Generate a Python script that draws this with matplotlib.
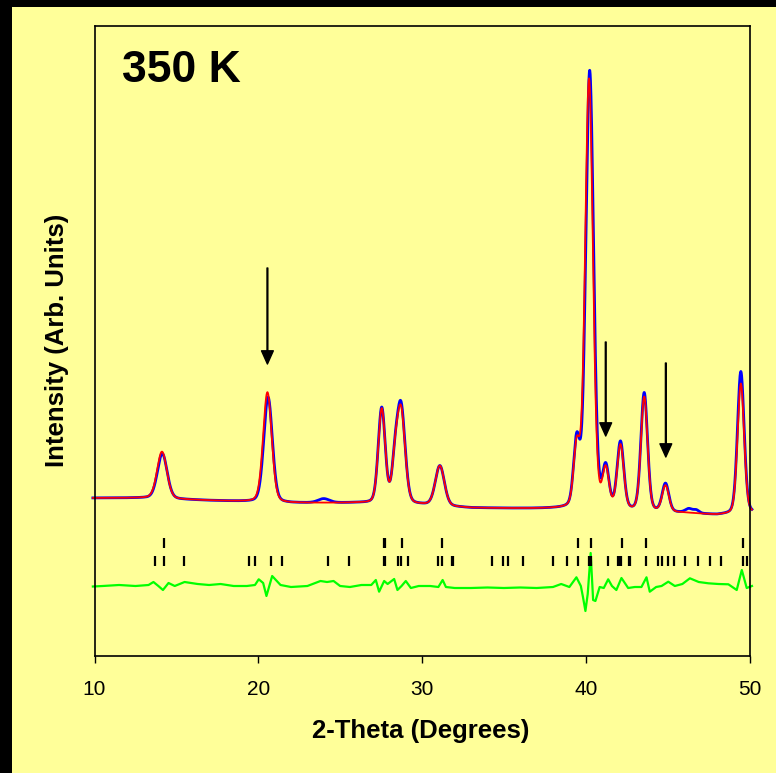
import numpy as np
import matplotlib
matplotlib.use("Agg")
import matplotlib.pyplot as plt
from matplotlib.patches import Rectangle

plt.rcParams['font.family'] = ['Liberation Sans', 'DejaVu Sans']

# ================== DATA ==================
# background level of the pattern
bg_x = [9.9, 13.0, 17.0, 22.0, 26.0, 30.0, 33.0, 38.0, 42.0, 46.0, 48.0, 50.2]
bg_y = [158, 158, 155.5, 153, 153, 151, 148, 147, 145, 143, 141, 143]

# calculated (red) peaks: position, height, FWHM
calc_pos = [14.12, 20.56, 27.54, 28.35, 28.72, 31.09, 39.45, 40.20, 41.22, 42.12, 43.57, 44.87, 49.47]
calc_h = [47, 110, 94, 34, 92, 40, 60, 430, 38, 64, 114, 26, 130]
calc_w = [0.70, 0.62, 0.50, 0.45, 0.58, 0.65, 0.45, 0.56, 0.46, 0.48, 0.48, 0.48, 0.48]

# observed (blue) peaks
obs_pos = [14.14, 20.60, 27.54, 28.35, 28.72, 31.09, 39.45, 40.24, 41.22, 42.12, 43.57, 44.87, 49.47,
           24.0, 46.3, 46.75]
obs_h = [45, 105, 95, 34, 96, 40, 66, 438, 40, 67, 118, 28, 142, 4, 4, 3]
obs_w = [0.70, 0.62, 0.50, 0.45, 0.58, 0.65, 0.45, 0.56, 0.46, 0.48, 0.48, 0.48, 0.48, 0.8, 0.5, 0.4]

# difference curve (green)
diff_x = [9.9, 10.5, 11.5, 12.5, 13.3, 13.6, 13.9, 14.18, 14.52, 14.9, 15.5, 16.3, 17.0, 17.7, 18.5,
          19.3, 19.8, 20.03, 20.3, 20.5, 20.85, 21.36, 22.0, 23.0, 23.8, 24.2, 24.6, 25.0, 25.6, 26.3,
          26.9, 27.18, 27.38, 27.69, 27.9, 28.3, 28.5, 28.75, 29.01, 29.32, 29.8, 30.5, 31.0, 31.26,
          31.46, 32.0, 33.0, 34.0, 35.0, 36.0, 37.0, 38.0, 38.5, 39.0, 39.43, 39.7, 39.83, 39.98,
          40.12, 40.3, 40.45, 40.59, 40.85, 41.1, 41.37, 41.6, 41.87, 42.18, 42.59, 43.0, 43.4,
          43.71, 43.91, 44.3, 44.63, 45.04, 45.44, 45.9, 46.36, 46.9, 47.49, 48.1, 48.71, 49.22,
          49.53, 49.83, 50.15]
diff_y = [69.5, 70, 71, 70, 71, 74, 70, 66, 73, 70, 74, 72, 71, 72, 70,
          70, 71, 76.7, 73, 60, 80, 71, 69, 70, 75, 74, 75, 70, 69, 71,
          71, 76, 64.3, 75, 72, 77, 66, 70, 75, 68, 70, 70, 69, 76,
          69, 68, 68, 68.5, 68, 68.5, 68, 69, 72, 69, 78.7, 70, 59, 45,
          62, 103, 56, 55, 69, 68, 76.7, 70, 66, 78, 68, 69, 69,
          78.7, 64.3, 69, 70, 74.3, 70, 72, 77.7, 74, 72.7, 72, 71.7, 66,
          86, 68, 70]

# reflection markers
ticks_upper = [14.27, 27.65, 27.72, 28.77, 31.22, 39.53, 40.30, 42.20, 43.69, 49.59]
ticks_lower = [13.70, 14.27, 15.48, 19.46, 19.83, 20.77, 21.48, 24.24, 25.57, 27.65, 27.72, 28.54,
               28.71, 29.14, 30.97, 31.22, 31.82, 31.92, 34.26, 34.97, 35.28, 36.16, 38.02, 38.83,
               39.53, 40.22, 40.30, 41.37, 41.98, 42.05, 42.14, 42.64, 42.72, 43.69, 44.43, 44.63,
               45.04, 45.38, 46.06, 46.88, 47.59, 48.26, 49.59, 49.83]
ticks_upper_y = 113
ticks_lower_y = 95

# arrows: position, tail, tip
arrow_x = [20.56, 41.22, 44.89]
arrow_tail = [388, 314, 293]
arrow_tip = [292, 220, 199]


def pv(x, pos, h, w, eta=0.2):
    d = (x - pos) / w
    return h * ((1 - eta) * np.exp(-4 * np.log(2) * d ** 2) + eta / (1 + 4 * d ** 2))


tt = np.arange(9.9, 50.16, 0.01)
bg = np.interp(tt, bg_x, bg_y)
calc = bg.copy()
for p, h, w in zip(calc_pos, calc_h, calc_w):
    calc += pv(tt, p, h, w)
obs = bg.copy()
for p, h, w in zip(obs_pos, obs_h, obs_w):
    obs += pv(tt, p, h, w)

# ================== PLOT ==================
YELLOW = '#FFFF99'
fig = plt.figure(figsize=(7.76, 7.73), dpi=100, facecolor=YELLOW)
fig.patches.append(Rectangle((0, 1 - 7 / 773), 1, 7 / 773, transform=fig.transFigure,
                             facecolor='black', edgecolor='none'))
fig.patches.append(Rectangle((0, 0), 12 / 776, 1, transform=fig.transFigure,
                             facecolor='black', edgecolor='none'))

ax = fig.add_axes([94.5 / 776, 1 - 656 / 773, 655 / 776, 630 / 773])
ax.set_facecolor(YELLOW)

ax.plot(tt, obs, color='#0000FF', lw=2.0, clip_on=False)
ax.plot(tt, calc, color='#FF0000', lw=1.3, clip_on=False)
ax.plot(diff_x, diff_y, color='#00FF00', lw=1.6, clip_on=False)

ax.plot(ticks_upper, [ticks_upper_y] * len(ticks_upper), ls='none', marker='|',
        ms=7, mew=1.6, color='black')
ax.plot(ticks_lower, [ticks_lower_y] * len(ticks_lower), ls='none', marker='|',
        ms=7, mew=1.6, color='black')

for x, t0, t1 in zip(arrow_x, arrow_tail, arrow_tip):
    ax.annotate('', xy=(x, t1), xytext=(x, t0),
                arrowprops=dict(facecolor='black', edgecolor='black', width=0.6,
                                headwidth=8.5, headlength=9.5, shrink=0))

ax.set_xlim(10, 50)
ax.set_ylim(0, 630)
ax.set_xticks([10, 20, 30, 40, 50])
ax.set_yticks([])
ax.tick_params(axis='x', direction='out', length=5, width=1, labelsize=15, pad=12)
for s in ax.spines.values():
    s.set_linewidth(1.2)

ax.text(0.042, 0.93, '350 K', transform=ax.transAxes, fontsize=32, fontweight='bold',
        ha='left', va='center')
fig.text(421 / 776, 1 - 731 / 773, '2-Theta (Degrees)', fontsize=18.5, fontweight='bold',
         ha='center', va='center')
fig.text(57 / 776, 1 - 340 / 773, 'Intensity (Arb. Units)', fontsize=18.5, fontweight='bold',
         ha='center', va='center', rotation=90)

fig.savefig('out.png', dpi=100, facecolor=YELLOW)
